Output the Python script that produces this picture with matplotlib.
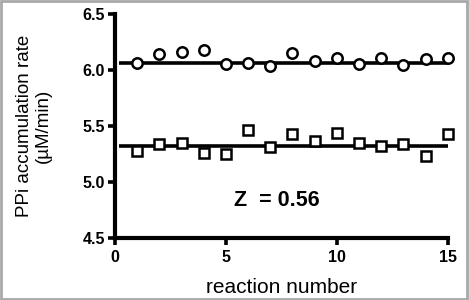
import matplotlib
matplotlib.use("Agg")
import matplotlib.pyplot as plt
from matplotlib.patches import Rectangle

reactions = list(range(1, 16))
high_rates = [6.06, 6.145, 6.157, 6.175, 6.05, 6.066, 6.036, 6.15, 6.084, 6.108, 6.05, 6.108, 6.042, 6.10, 6.108]
low_rates = [5.277, 5.336, 5.345, 5.262, 5.253, 5.461, 5.312, 5.426, 5.366, 5.435, 5.351, 5.321, 5.336, 5.232, 5.432]
mean_high = 6.063
mean_low = 5.325
mean_span = [0.2, 15.2]
z_text = "Z  = 0.56"
x_ticks = [0, 5, 10, 15]
y_ticks = [4.5, 5.0, 5.5, 6.0, 6.5]

plt.rcParams['font.family'] = ['Liberation Sans', 'DejaVu Sans']

fig = plt.figure(figsize=(4.69, 3.0), dpi=100)
ax = fig.add_axes([0.245, 0.207, 0.71, 0.746])

ax.plot(mean_span, [mean_high, mean_high], color='black', lw=2.6, zorder=2, solid_capstyle='butt')
ax.plot(mean_span, [mean_low, mean_low], color='black', lw=2.6, zorder=2, solid_capstyle='butt')
ax.plot(reactions, high_rates, linestyle='none', marker='o', markersize=7.5,
        markerfacecolor='white', markeredgecolor='black', markeredgewidth=1.8, zorder=3, clip_on=False)
ax.plot(reactions, low_rates, linestyle='none', marker='s', markersize=7,
        markerfacecolor='white', markeredgecolor='black', markeredgewidth=1.8, zorder=3, clip_on=False)

ax.text(7.3, 4.83, z_text, fontsize=15.5, fontweight='bold', ha='center', va='center')

ax.set_xlim(0, 15)
ax.set_ylim(4.5, 6.5)
ax.set_xticks(x_ticks)
ax.set_yticks(y_ticks)
ax.set_xticklabels([str(t) for t in x_ticks], fontweight='bold', fontsize=11.5)
ax.set_yticklabels([f"{t:.1f}" for t in y_ticks], fontweight='bold', fontsize=11.5)
ax.tick_params(direction='out', length=5, width=2.6, pad=2)
ax.tick_params(axis='x', pad=4)

for s in ['top', 'right']:
    ax.spines[s].set_visible(False)
for s in ['left', 'bottom']:
    ax.spines[s].set_linewidth(3)

ax.set_xlabel("reaction number", fontsize=15, labelpad=9)
ax.set_ylabel("PPi accumulation rate\n(µM/min)", fontsize=13.5, labelpad=22, linespacing=1.2)

fig.patches.append(Rectangle((0.003, 0.004), 0.993, 0.992, transform=fig.transFigure,
                             fill=False, edgecolor='#a8a8a8', lw=2))

fig.savefig("out.png", dpi=100)
